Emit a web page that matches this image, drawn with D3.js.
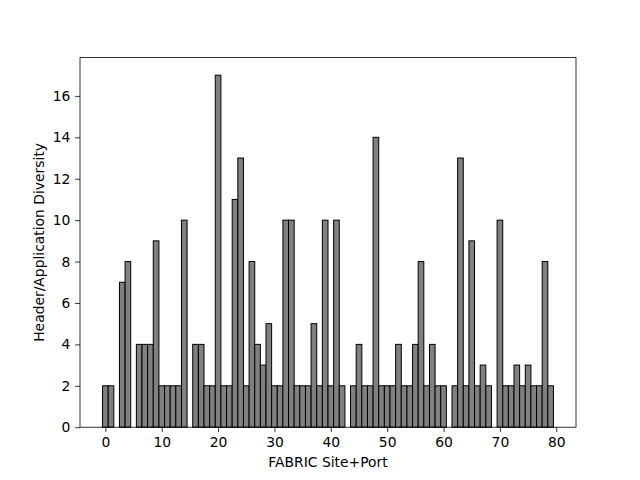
<!DOCTYPE html>
<html><head><meta charset="utf-8">
<script src="https://cdn.jsdelivr.net/npm/d3@7"></script>
<style>body{margin:0;background:#fff}svg{display:block}text{font-family:"DejaVu Sans",sans-serif}</style>
</head><body>
<svg id="c" width="640" height="480"></svg>
<script>
const sites = d3.range(0, 80);
const diversity = [2,2,0,7,8,0,4,4,4,9,2,2,2,2,10,0,4,4,2,2,17,2,2,11,13,2,8,4,3,5,2,2,10,10,2,2,2,5,2,10,2,10,2,0,2,4,2,2,14,2,2,2,4,2,2,4,8,2,4,2,2,0,2,13,2,9,2,3,2,0,10,2,2,3,2,3,2,2,8,2];
const xTicks = [0,10,20,30,40,50,60,70,80];
const yTicks = [0,2,4,6,8,10,12,14,16];
const xLabel = "FABRIC Site+Port";
const yLabel = "Header/Application Diversity";

const svg = d3.select("#c");
const L = 80, R = 576, T = 57.6, B = 427.2;
const x = d3.scaleLinear().domain([-4.5, 83.5]).range([L, R]);
const y = d3.scaleLinear().domain([0, 17.85]).range([B, T]);
const fs = 13.89;

const data = sites.map((s, i) => ({s, v: diversity[i]})).filter(d => d.v > 0);
svg.append("g").selectAll("rect").data(data).enter().append("rect")
  .attr("x", d => x(d.s - 0.5))
  .attr("width", d => x(d.s + 0.5) - x(d.s - 0.5))
  .attr("y", d => y(d.v))
  .attr("height", d => y(0) - y(d.v))
  .attr("fill", "#808080").attr("stroke", "#000").attr("stroke-width", 1);

svg.append("rect").attr("x", L).attr("y", T).attr("width", R - L).attr("height", B - T)
  .attr("fill", "none").attr("stroke", "#000").attr("stroke-width", 0.8);

const xa = svg.append("g").attr("transform", `translate(0,${B})`)
  .call(d3.axisBottom(x).tickValues(xTicks).tickSize(4.86).tickPadding(4.86).tickFormat(d3.format("d")));
const ya = svg.append("g").attr("transform", `translate(${L},0)`)
  .call(d3.axisLeft(y).tickValues(yTicks).tickSize(4.86).tickPadding(4.86).tickFormat(d3.format("d")));
[xa, ya].forEach(a => {
  a.select(".domain").remove();
  a.selectAll(".tick line").attr("stroke", "#000").attr("stroke-width", 0.8);
  a.selectAll(".tick text").attr("font-size", fs).attr("fill", "#000").style("font-family", "DejaVu Sans");
});

svg.append("text").attr("x", (L + R) / 2).attr("y", 467).attr("text-anchor", "middle")
  .attr("font-size", fs).text(xLabel);
svg.append("text").attr("transform", `translate(44,${(T + B) / 2}) rotate(-90)`).attr("text-anchor", "middle")
  .attr("font-size", fs).text(yLabel);
</script>
</body></html>
